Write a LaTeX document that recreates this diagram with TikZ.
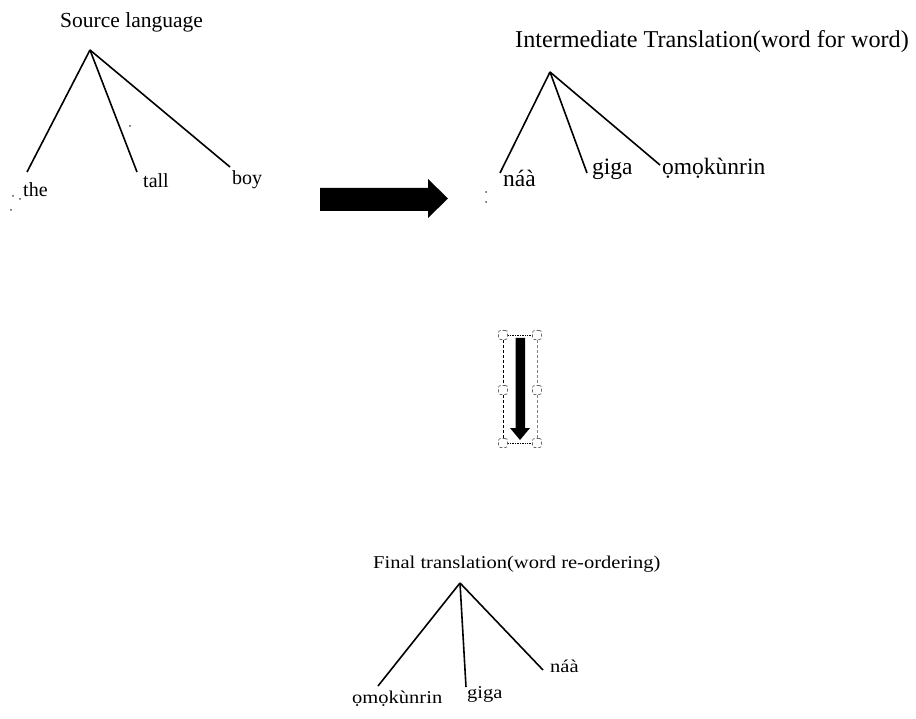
\documentclass[tikz,border=0pt]{standalone}
\usepackage{fontspec}
\setmainfont{Liberation Serif}
\newfontfamily\widefont[FakeStretch=1.14]{Liberation Serif}
\begin{document}
\begin{tikzpicture}[x=1pt,y=-1pt,
  lbl/.style={inner sep=0pt, anchor=base west},
  srcfont/.style={font=\fontsize{20}{22}\selectfont},
  midfont/.style={font=\fontsize{23.5}{26}\selectfont},
  finfont/.style={font=\widefont\fontsize{18}{20}\selectfont},
  branch/.style={line width=1.6pt, black},
  bigarrow/.style={fill=black},
  speck/.style={fill=black!70, circle, inner sep=0pt, minimum size=2pt},
  handle/.style={draw=black!60, densely dashed, fill=white, line width=0.7pt, rounded corners=2pt, rectangle, minimum size=9pt, inner sep=0pt}]
\useasboundingbox (0,0) rectangle (916,719);

% ---- Source tree
\node[lbl, font=\fontsize{21.5}{24}\selectfont] (srctitle) at (60,28) {Source language};
\coordinate (sa) at (90,50);
\coordinate (s1) at (27,172);
\coordinate (s2) at (137,172);
\coordinate (s3) at (230,167);
\node[lbl, srcfont] (the) at (23,197) {the};
\node[lbl, srcfont] (tall) at (143,188) {tall};
\node[lbl, srcfont] (boy) at (232,185) {boy};
\draw[branch] (sa) -- (s1);
\draw[branch] (sa) -- (s2);
\draw[branch] (sa) -- (s3);
\node[speck] (sp1) at (13,196) {};
\node[speck] (sp2) at (20,199) {};
\node[speck] (sp3) at (11,210) {};
\node[speck] (sp4) at (130,126) {};

% ---- right arrow
\fill[bigarrow] (320,188) -- (428,188) -- (428,179) -- (448,198.5) -- (428,218) -- (428,211) -- (320,211) -- cycle;

% ---- Intermediate tree
\node[lbl, font=\fontsize{24.2}{27}\selectfont] (midtitle) at (515,48) {Intermediate Translation(word for word)};
\coordinate (ma) at (550,72);
\coordinate (m1) at (500,173);
\coordinate (m2) at (587,173);
\coordinate (m3) at (660,165);
\node[lbl, midfont] (naa) at (503,187) {náà};
\node[lbl, midfont] (giga) at (592,175) {giga};
\node[lbl, midfont] (omo) at (662,175) {ọmọkùnrin};
\draw[branch] (ma) -- (m1);
\draw[branch] (ma) -- (m2);
\draw[branch] (ma) -- (m3);
\node[speck] (sp5) at (486,192) {};
\node[speck] (sp6) at (486,202) {};

% ---- down arrow with selection frame
\draw[black, densely dashed, line width=0.8pt] (503,335) -- (503,443);
\draw[gray, densely dashed, line width=0.8pt] (537,335) -- (537,443);
\draw[black, densely dotted, line width=0.7pt] (503,335) -- (537,335);
\draw[black, densely dotted, line width=0.7pt] (503,443) -- (537,443);
\fill[bigarrow] (515.5,338) -- (525,338) -- (525,428) -- (530,428) -- (520,440) -- (510,428) -- (515.5,428) -- cycle;
\node[handle] (h1) at (503,335) {};
\node[handle] (h2) at (537,335) {};
\node[handle] (h3) at (503,390) {};
\node[handle] (h4) at (537,390) {};
\node[handle] (h5) at (503,443) {};
\node[handle] (h6) at (537,443) {};

% ---- Final tree
\node[lbl, finfont] (fintitle) at (373,568) {Final translation(word re-ordering)};
\coordinate (fa) at (460,583);
\coordinate (f1) at (378,686);
\coordinate (f2) at (466,687);
\coordinate (f3) at (543,670);
\node[lbl, finfont] (fomo) at (352,703) {ọmọkùnrin};
\node[lbl, finfont] (fgiga) at (467,698) {giga};
\node[lbl, finfont] (fnaa) at (550,672) {náà};
\draw[branch] (fa) -- (f1);
\draw[branch] (fa) -- (f2);
\draw[branch] (fa) -- (f3);
\end{tikzpicture}
\end{document}
